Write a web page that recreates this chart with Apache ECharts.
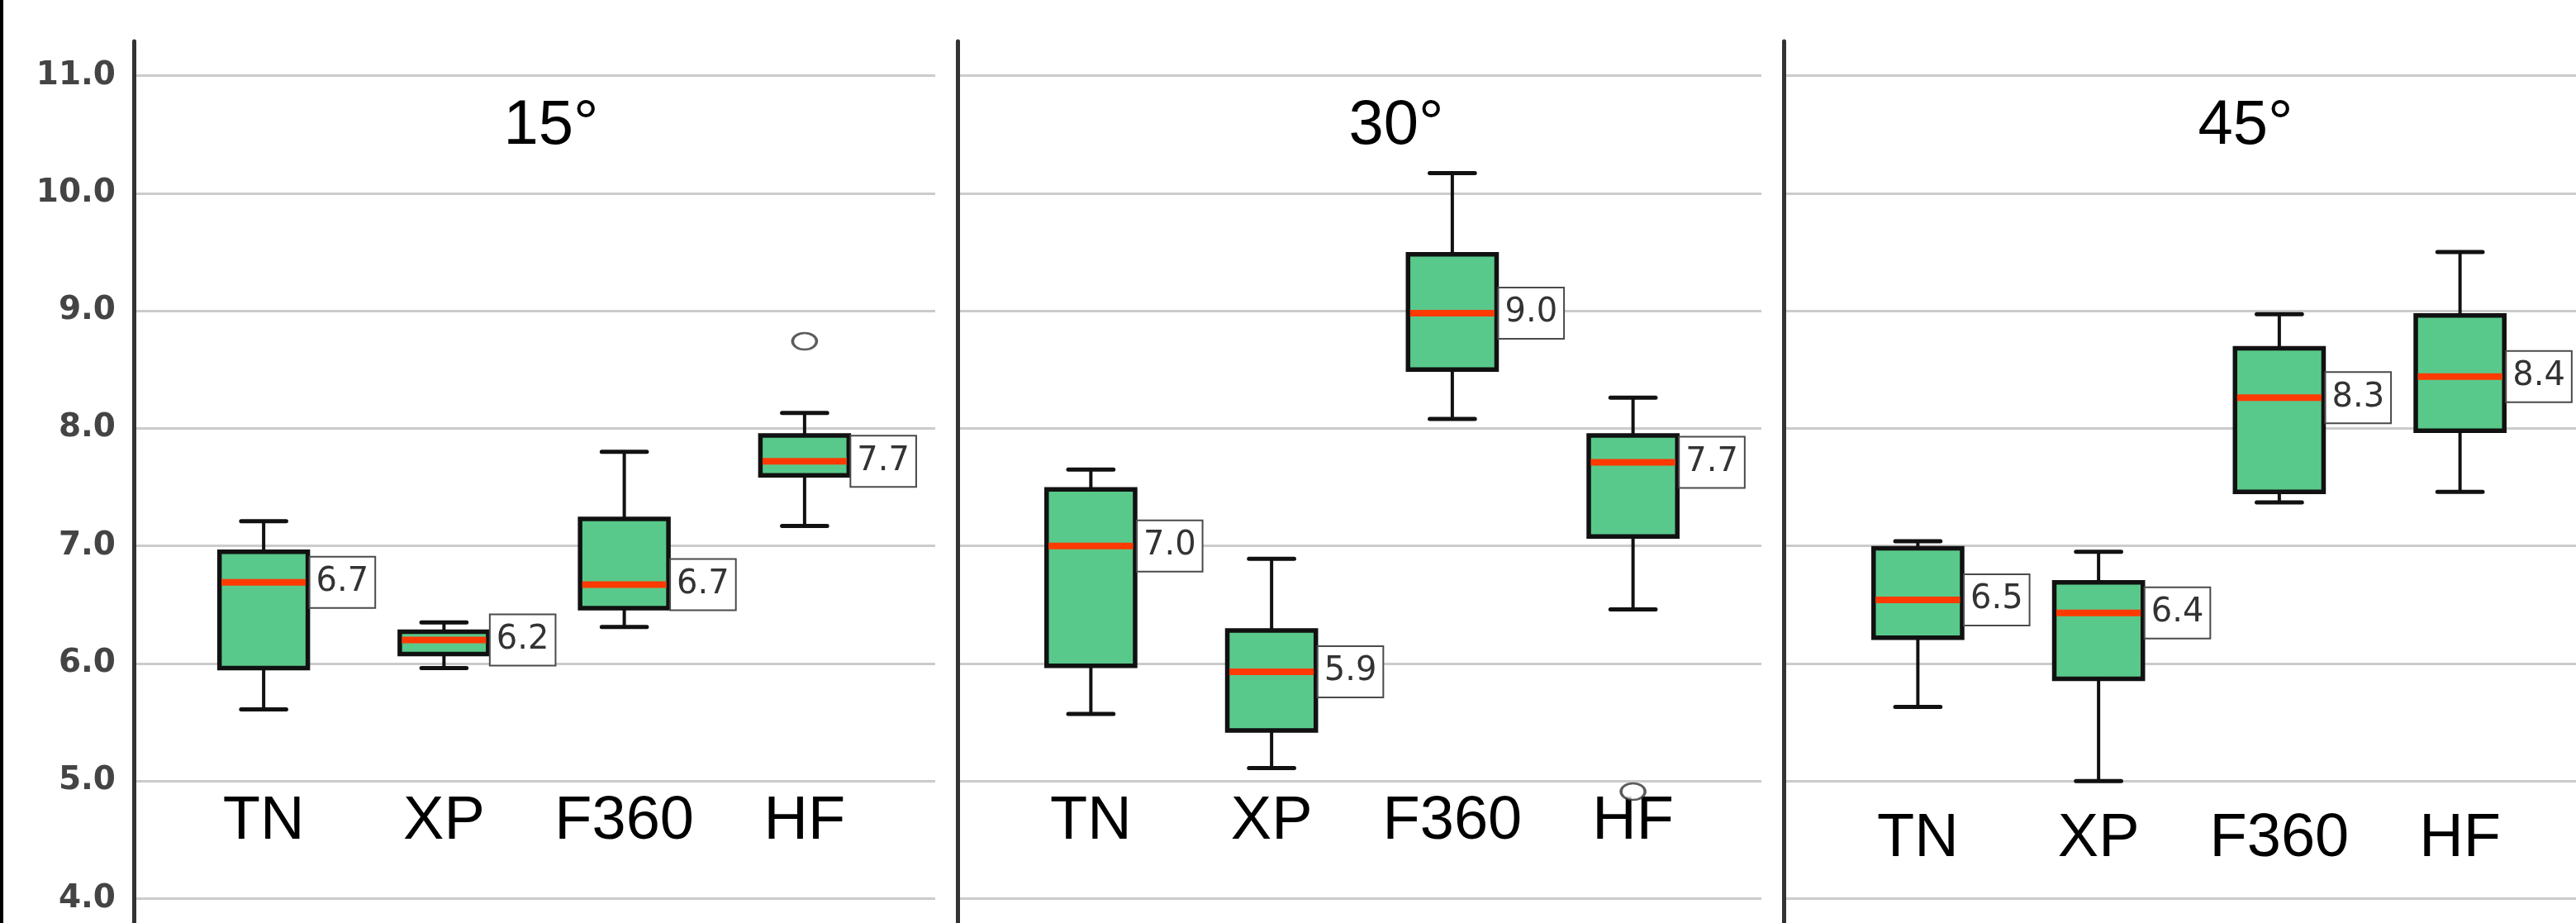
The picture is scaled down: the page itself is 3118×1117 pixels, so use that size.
<!DOCTYPE html>
<html><head><meta charset="utf-8">
<script src="https://cdn.jsdelivr.net/npm/echarts@6/dist/echarts.min.js"></script>
<style>html,body{margin:0;padding:0;background:#fff}#c{width:3118px;height:1117px}</style>
</head><body><div id="c"></div>
<script>
// ---------------- data ----------------
const categories = ['TN', 'XP', 'F360', 'HF'];
const panelTitles = ['15°', '30°', '45°'];
const yMin = 4, yMax = 11, yStep = 1;
// each box: [min, Q1, median, Q3, max]
const boxes15 = [[5.61, 5.96, 6.69, 6.95, 7.21], [5.96, 6.08, 6.20, 6.27, 6.35], [6.31, 6.47, 6.67, 7.23, 7.80], [7.17, 7.60, 7.72, 7.94, 8.13]];
const boxes30 = [[5.57, 5.98, 7.00, 7.48, 7.65], [5.11, 5.43, 5.93, 6.28, 6.89], [8.08, 8.50, 8.98, 9.48, 10.17], [6.46, 7.08, 7.71, 7.94, 8.26]];
const boxes45 = [[5.63, 6.22, 6.54, 6.98, 7.04], [5.00, 5.87, 6.43, 6.69, 6.95], [7.37, 7.46, 8.26, 8.68, 8.97], [7.46, 7.98, 8.44, 8.96, 9.50]];
const outliers15 = [['HF', 8.74]];
const outliers30 = [['HF', 4.91]];
const outliers45 = [];

// ---------------- layout ----------------
const panelBoxes = [boxes15, boxes30, boxes45];
const panelOutliers = [outliers15, outliers30, outliers45];
const layout = [
  { axisX: 162, gridR: 1132, dataL: 210, dataW: 873, titleX: 667, labelMargin: 56 },
  { axisX: 1159, gridR: 2132, dataL: 1211, dataW: 875, titleX: 1690, labelMargin: 56 },
  { axisX: 2159, gridR: 3131, dataL: 2212, dataW: 875, titleX: 2718, labelMargin: 35 }
];
const plotTop = 91.5, plotH = 996;

function renderBox(params, api) {
  const c = api.value(0);
  const pLo = api.coord([c, api.value(1)]);
  const pQ1 = api.coord([c, api.value(2)]);
  const pMed = api.coord([c, api.value(3)]);
  const pQ3 = api.coord([c, api.value(4)]);
  const pHi = api.coord([c, api.value(5)]);
  const band = api.size([1, 0])[0];
  const bw = band * 0.49, cw = band * 0.25, x = pMed[0];
  const wStyle = { stroke: '#111', lineWidth: 4 };
  const cStyle = { stroke: '#111', lineWidth: 5, lineCap: 'round' };
  return {
    type: 'group',
    children: [
      { type: 'line', shape: { x1: x, y1: pHi[1], x2: x, y2: pQ3[1] }, style: wStyle },
      { type: 'line', shape: { x1: x, y1: pQ1[1], x2: x, y2: pLo[1] }, style: wStyle },
      { type: 'line', shape: { x1: x - cw / 2, y1: pHi[1], x2: x + cw / 2, y2: pHi[1] }, style: cStyle },
      { type: 'line', shape: { x1: x - cw / 2, y1: pLo[1], x2: x + cw / 2, y2: pLo[1] }, style: cStyle },
      { type: 'rect', shape: { x: x - bw / 2, y: pQ3[1], width: bw, height: pQ1[1] - pQ3[1] },
        style: { fill: '#59c98b', stroke: '#111', lineWidth: 5.5 } },
      { type: 'line', shape: { x1: x - bw / 2 + 2.5, y1: pMed[1], x2: x + bw / 2 - 2.5, y2: pMed[1] },
        style: { stroke: '#ff3a00', lineWidth: 8 } },
      { type: 'text', x: x + bw / 2 + 3, y: pMed[1],
        style: { text: api.value(3).toFixed(1), fill: '#333', fontSize: 40, fontFamily: 'DejaVu Sans',
          align: 'left', verticalAlign: 'middle', lineHeight: 40,
          backgroundColor: '#fff', borderColor: '#4a4a4a', borderWidth: 2, padding: [10, 7, 10, 7] } }
    ]
  };
}

const grids = [], xAxes = [], yAxes = [], series = [], graphics = [];
graphics.push({ type: 'rect', shape: { x: 0, y: 0, width: 4, height: 1117 }, style: { fill: '#000' } });

layout.forEach((L, i) => {
  // frame grid: axis / separator line
  grids.push({ left: L.axisX, top: 50, width: 10, height: 1067 });
  xAxes.push({ gridIndex: 3 * i, type: 'value', show: false, min: 0, max: 1 });
  yAxes.push({ gridIndex: 3 * i, type: 'value', min: 0, max: 1,
    axisLine: { show: true, onZero: false, lineStyle: { color: '#333', width: 5 } },
    axisTick: { show: false }, axisLabel: { show: false }, splitLine: { show: false } });
  // gridline grid
  grids.push({ left: L.axisX, top: plotTop, width: L.gridR - L.axisX, height: plotH });
  xAxes.push({ gridIndex: 3 * i + 1, type: 'value', show: false, min: 0, max: 1 });
  yAxes.push({ gridIndex: 3 * i + 1, type: 'value', min: yMin, max: yMax, interval: yStep,
    axisLine: { show: false }, axisTick: { show: false },
    axisLabel: { show: i === 0, margin: 22, fontSize: 39, fontFamily: 'DejaVu Sans', fontWeight: 'bold',
      color: '#444', formatter: v => v.toFixed(1) },
    splitLine: { show: true, lineStyle: { color: '#cbcbcb', width: 3 } } });
  // data grid
  grids.push({ left: L.dataL, top: plotTop, width: L.dataW, height: plotH });
  xAxes.push({ gridIndex: 3 * i + 2, type: 'category', data: categories,
    axisLine: { show: false }, axisTick: { show: false }, splitLine: { show: false },
    axisLabel: { interval: 0, hideOverlap: false, inside: true, margin: L.labelMargin, fontSize: 74, lineHeight: 74,
      fontFamily: 'Liberation Sans', color: '#000' } });
  yAxes.push({ gridIndex: 3 * i + 2, type: 'value', min: yMin, max: yMax, show: false });

  series.push({ type: 'custom', xAxisIndex: 3 * i + 2, yAxisIndex: 3 * i + 2,
    renderItem: renderBox, encode: { x: 0, y: [1, 2, 3, 4, 5] },
    data: panelBoxes[i].map((b, j) => [j].concat(b)) });
  series.push({ type: 'scatter', xAxisIndex: 3 * i + 2, yAxisIndex: 3 * i + 2,
    symbol: 'path://M0,50 A50,50 0 1,1 100,50 A50,50 0 1,1 0,50 Z', symbolSize: [29, 20],
    itemStyle: { color: '#fff', borderColor: '#333', borderWidth: 3 },
    data: panelOutliers[i].map(o => [categories.indexOf(o[0]), o[1]]) });

  graphics.push({ type: 'text', x: L.titleX, y: 153,
    style: { text: panelTitles[i], fontSize: 76, fontFamily: 'Liberation Sans', fill: '#000',
      align: 'center', verticalAlign: 'middle' } });
});

const chart = echarts.init(document.getElementById('c'), null, { renderer: 'canvas' });
chart.setOption({
  animation: false,
  backgroundColor: '#fff',
  grid: grids, xAxis: xAxes, yAxis: yAxes, series: series, graphic: graphics
});
</script></body></html>
